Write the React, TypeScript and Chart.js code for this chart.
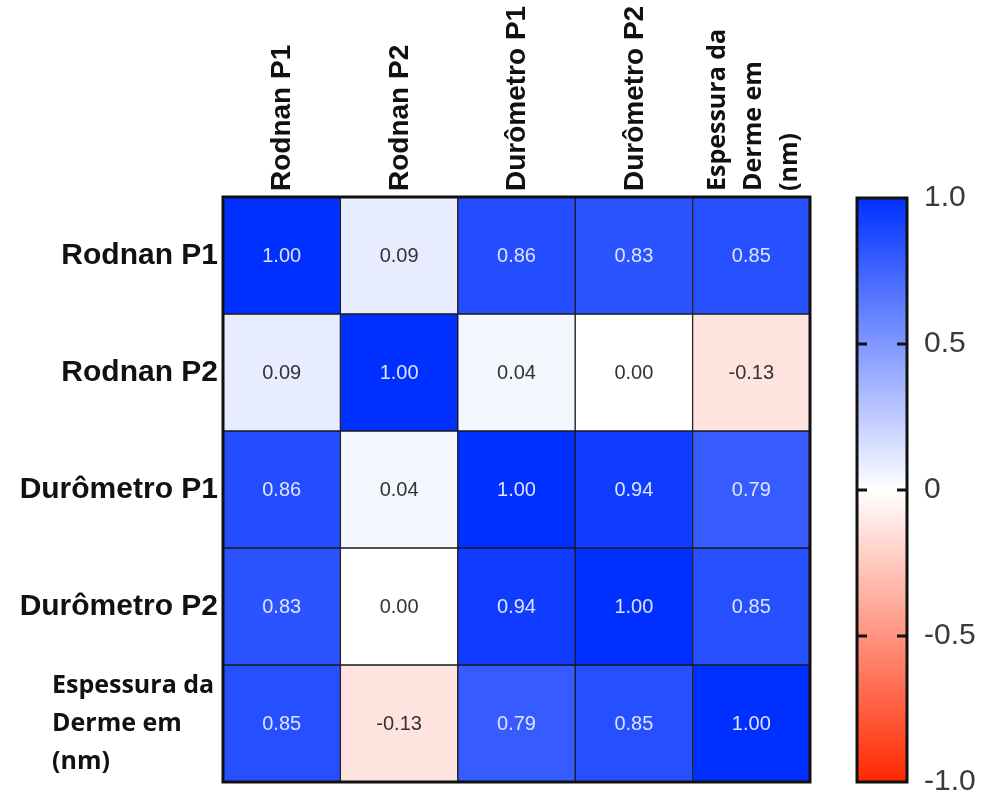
import { useEffect, useRef } from 'react';
import { Chart, registerables } from 'chart.js';

Chart.register(...registerables);

// Variables compared in the correlation matrix (row order = column order)
const variables = ['Rodnan P1', 'Rodnan P2', 'Durômetro P1', 'Durômetro P2', 'Espessura da Derme em (nm)'];
// How each variable name is broken into lines on the axes
const labelLines = [
  ['Rodnan P1'],
  ['Rodnan P2'],
  ['Durômetro P1'],
  ['Durômetro P2'],
  ['Espessura da', 'Derme em', '(nm)'],
];

// Correlation coefficients, one array per row
const rodnanP1 = [1.0, 0.09, 0.86, 0.83, 0.85];
const rodnanP2 = [0.09, 1.0, 0.04, 0.0, -0.13];
const durometroP1 = [0.86, 0.04, 1.0, 0.94, 0.79];
const durometroP2 = [0.83, 0.0, 0.94, 1.0, 0.85];
const espessuraDerme = [0.85, -0.13, 0.79, 0.85, 1.0];
const matrix = [rodnanP1, rodnanP2, durometroP1, durometroP2, espessuraDerme];

// Colour bar scale
const colorbarTicks = [1.0, 0.5, 0, -0.5, -1.0];
const colorbarTickLabels = ['1.0', '0.5', '0', '-0.5', '-1.0'];
const colorbarMarks = [0.5, 0, -0.5];

const HIGH = [0, 48, 255];
const LOW = [255, 40, 0];

function colorFor(v: number): string {
  const t = Math.min(1, Math.abs(v));
  const end = v >= 0 ? HIGH : LOW;
  const c = end.map((e) => Math.round(255 + (e - 255) * t));
  return `rgb(${c[0]},${c[1]},${c[2]})`;
}

const ARIAL = '"Liberation Sans", Arial, sans-serif';
const SANS = '"Open Sans", "Noto Sans", sans-serif';

const cellText = {
  id: 'cellText',
  afterDatasetsDraw(chart: any) {
    const ctx = chart.ctx;
    ctx.save();
    ctx.font = `20px ${ARIAL}`;
    ctx.textAlign = 'center';
    ctx.textBaseline = 'middle';
    chart.data.datasets.forEach((_ds: any, r: number) => {
      const meta = chart.getDatasetMeta(r);
      meta.data.forEach((el: any, c: number) => {
        const { x, y, base } = el.getProps(['x', 'y', 'base'], true);
        const v = matrix[r][c];
        ctx.fillStyle = Math.abs(v) > 0.5 ? 'rgba(232,236,255,0.95)' : '#333333';
        ctx.fillText(v.toFixed(2), x, (y + base) / 2 + 1);
      });
    });
    ctx.restore();
  },
};

const axisText = {
  id: 'axisText',
  afterDraw(chart: any) {
    const ctx = chart.ctx;
    const { x: xs, y: ys } = chart.scales;
    const area = chart.chartArea;
    ctx.save();
    // frame around the matrix
    ctx.strokeStyle = '#111';
    ctx.lineWidth = 3;
    ctx.strokeRect(area.left, area.top, area.right - area.left, area.bottom - area.top);

    ctx.fillStyle = '#111';
    // column names, rotated to read upwards
    labelLines.forEach((lines, i) => {
      const multi = lines.length > 1;
      const cx = xs.getPixelForValue(i) + (multi ? 3 : 1);
      ctx.save();
      ctx.translate(cx, area.top - 6);
      ctx.rotate(-Math.PI / 2);
      ctx.font = multi ? `bold 25px ${SANS}` : `bold 28px ${ARIAL}`;
      ctx.textAlign = 'left';
      ctx.textBaseline = 'middle';
      const lh = 36;
      lines.forEach((ln, k) => {
        ctx.fillText(ln, 0, (k - (lines.length - 1) / 2) * lh);
      });
      ctx.restore();
    });

    // row names
    labelLines.forEach((lines, i) => {
      const cy = ys.getPixelForValue(i + 0.5);
      ctx.textBaseline = 'middle';
      if (lines.length === 1) {
        ctx.font = `bold 30px ${ARIAL}`;
        ctx.textAlign = 'right';
        ctx.fillText(lines[0], area.left - 5, cy);
      } else {
        ctx.font = `bold 25px ${SANS}`;
        ctx.textAlign = 'left';
        const lh = 38;
        lines.forEach((ln, k) => {
          ctx.fillText(ln, 52, cy + (k - (lines.length - 1) / 2) * lh);
        });
      }
    });
    ctx.restore();
  },
};

const colorbarFrame = {
  id: 'colorbarFrame',
  afterDraw(chart: any) {
    const ctx = chart.ctx;
    const area = chart.chartArea;
    const ys = chart.scales.y;
    ctx.save();
    ctx.strokeStyle = '#111';
    ctx.lineWidth = 3;
    ctx.strokeRect(area.left, area.top, area.right - area.left, area.bottom - area.top);
    ctx.beginPath();
    colorbarMarks.forEach((v) => {
      const py = ys.getPixelForValue(v);
      ctx.moveTo(area.left, py);
      ctx.lineTo(area.left + 10, py);
      ctx.moveTo(area.right - 10, py);
      ctx.lineTo(area.right, py);
    });
    ctx.stroke();
    ctx.restore();
  },
};

export default function App() {
  const heatRef = useRef<HTMLCanvasElement>(null);
  const barRef = useRef<HTMLCanvasElement>(null);

  useEffect(() => {
    let heat: Chart | null = null;
    let bar: Chart | null = null;
    let cancelled = false;

    const build = () => {
      if (cancelled || !heatRef.current || !barRef.current) return;

      heat = new Chart(heatRef.current, {
        type: 'bar',
        data: {
          labels: variables,
          datasets: matrix.map((row, r) => ({
            label: variables[r],
            data: row.map(() => [r, r + 1]),
            backgroundColor: row.map((v) => colorFor(v)),
            borderColor: '#1a1a1a',
            borderWidth: 1,
            borderSkipped: false,
            grouped: false,
            barPercentage: 1,
            categoryPercentage: 1,
          })) as any,
        },
        options: {
          responsive: false,
          animation: false,
          events: [],
          layout: { padding: { left: 223, top: 197, right: 174, bottom: 16 } },
          plugins: { legend: { display: false }, tooltip: { enabled: false } },
          scales: {
            x: { type: 'category', display: false },
            y: { type: 'linear', min: 0, max: 5, reverse: true, display: false },
          },
        },
        plugins: [cellText, axisText],
      });

      bar = new Chart(barRef.current, {
        type: 'bar',
        data: {
          labels: [''],
          datasets: [
            {
              data: [[-1, 1]] as any,
              backgroundColor: (c: any) => {
                const area = c.chart.chartArea;
                if (!area) return colorFor(0);
                const g = c.chart.ctx.createLinearGradient(0, area.top, 0, area.bottom);
                g.addColorStop(0, colorFor(1));
                g.addColorStop(0.5, colorFor(0));
                g.addColorStop(1, colorFor(-1));
                return g;
              },
              borderWidth: 0,
              barPercentage: 1,
              categoryPercentage: 1,
            },
          ],
        },
        options: {
          responsive: false,
          animation: false,
          events: [],
          layout: { padding: { left: 17, top: 198, right: 0, bottom: 16 } },
          plugins: { legend: { display: false }, tooltip: { enabled: false } },
          scales: {
            x: { display: false },
            y: {
              type: 'linear',
              position: 'right',
              min: -1,
              max: 1,
              border: { display: false },
              grid: { display: false, drawTicks: false },
              afterBuildTicks: (scale: any) => {
                scale.ticks = colorbarTicks.map((v) => ({ value: v }));
              },
              afterFit: (scale: any) => {
                scale.width = 77;
                scale.paddingTop = 0;
                scale.paddingBottom = 0;
              },
              ticks: {
                padding: 17,
                color: '#3a3a3a',
                font: { family: ARIAL, size: 30 },
                callback: (v: any) => {
                  const i = colorbarTicks.indexOf(Number(v));
                  return i >= 0 ? colorbarTickLabels[i] : '';
                },
              },
            },
          },
        },
        plugins: [colorbarFrame],
      });
    };

    const fonts = [`bold 25px ${SANS}`, `bold 30px ${ARIAL}`, `20px ${ARIAL}`, `30px ${ARIAL}`];
    Promise.all(fonts.map((f) => (document as any).fonts.load(f, 'Durômetro')))
      .catch(() => null)
      .then(build);

    return () => {
      cancelled = true;
      heat?.destroy();
      bar?.destroy();
    };
  }, []);

  return (
    <div style={{ position: 'absolute', left: 0, top: 0, width: 984, height: 798, background: '#fff' }}>
      <canvas ref={heatRef} width={984} height={798} style={{ position: 'absolute', left: 0, top: 0 }} />
      <canvas ref={barRef} width={144} height={798} style={{ position: 'absolute', left: 840, top: 0 }} />
    </div>
  );
}
